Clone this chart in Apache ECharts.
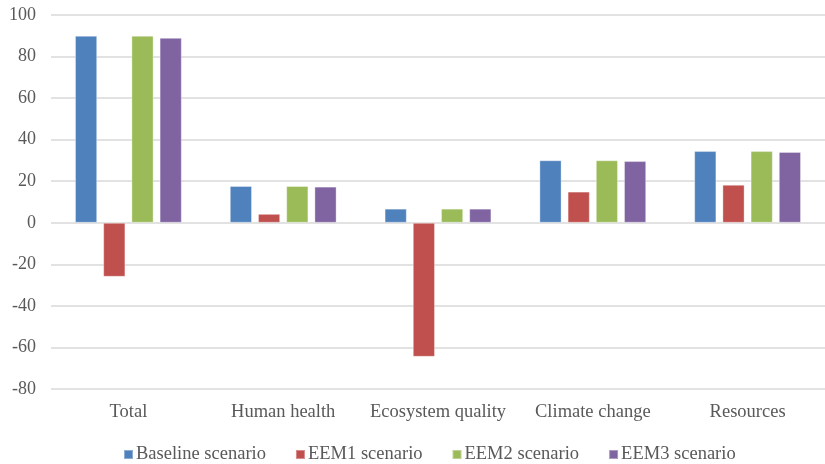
<!DOCTYPE html>
<html>
<head>
<meta charset="utf-8">
<script src="https://cdn.jsdelivr.net/npm/echarts@6/dist/echarts.min.js"></script>
<style>
html,body{margin:0;padding:0;background:#fff;}
#chart{width:825px;height:464px;}
</style>
</head>
<body>
<div id="chart"></div>
<script>
const categories = ['Total', 'Human health', 'Ecosystem quality', 'Climate change', 'Resources'];
const seriesNames = ['Baseline scenario', 'EEM1 scenario', 'EEM2 scenario', 'EEM3 scenario'];
const baseline = [90.0, 17.7, 6.8, 30.1, 34.5];
const eem1 = [-26.0, 4.3, -64.5, 15.0, 18.3];
const eem2 = [90.0, 17.7, 6.8, 30.1, 34.5];
const eem3 = [89.0, 17.4, 6.8, 29.7, 34.1];
const yTicks = [-80, -60, -40, -20, 0, 20, 40, 60, 80, 100];
const colors = ['#4f81bd', '#c0504d', '#9bbb59', '#8064a2'];

const font = 'Liberation Serif';
const textColor = '#595959';
const allData = [baseline, eem1, eem2, eem3];

const chart = echarts.init(document.getElementById('chart'), null, {renderer: 'canvas'});
chart.setOption({
  animation: false,
  color: colors,
  grid: {left: 51, top: 15, width: 785, height: 374, containLabel: false},
  legend: {
    left: 123, top: 445, padding: 0,
    itemWidth: 9, itemHeight: 9, itemGap: 29,
    icon: 'rect',
    textStyle: {fontFamily: font, fontSize: 18.5, color: textColor, padding: [0,0,0,-2]},
    data: seriesNames
  },
  xAxis: {
    type: 'category',
    data: categories,
    axisLine: {show: false, onZero: false},
    axisTick: {show: false},
    axisLabel: {fontFamily: font, fontSize: 18.5, color: textColor, margin: 14, interval: 0}
  },
  yAxis: {
    type: 'value',
    min: yTicks[0], max: yTicks[yTicks.length - 1], interval: 20,
    axisLine: {show: false},
    axisTick: {show: false},
    splitLine: {lineStyle: {color: '#d9d9d9', width: 1.5}},
    axisLabel: {fontFamily: font, fontSize: 18, color: textColor, margin: 15}
  },
  series: seriesNames.map((n, i) => ({
    name: n,
    type: 'bar',
    data: allData[i],
    barGap: '27%',
    barCategoryGap: '31%',
    itemStyle: {borderColor: 'rgba(255,255,255,0.35)', borderWidth: 1}
  }))
});
</script>
</body>
</html>
